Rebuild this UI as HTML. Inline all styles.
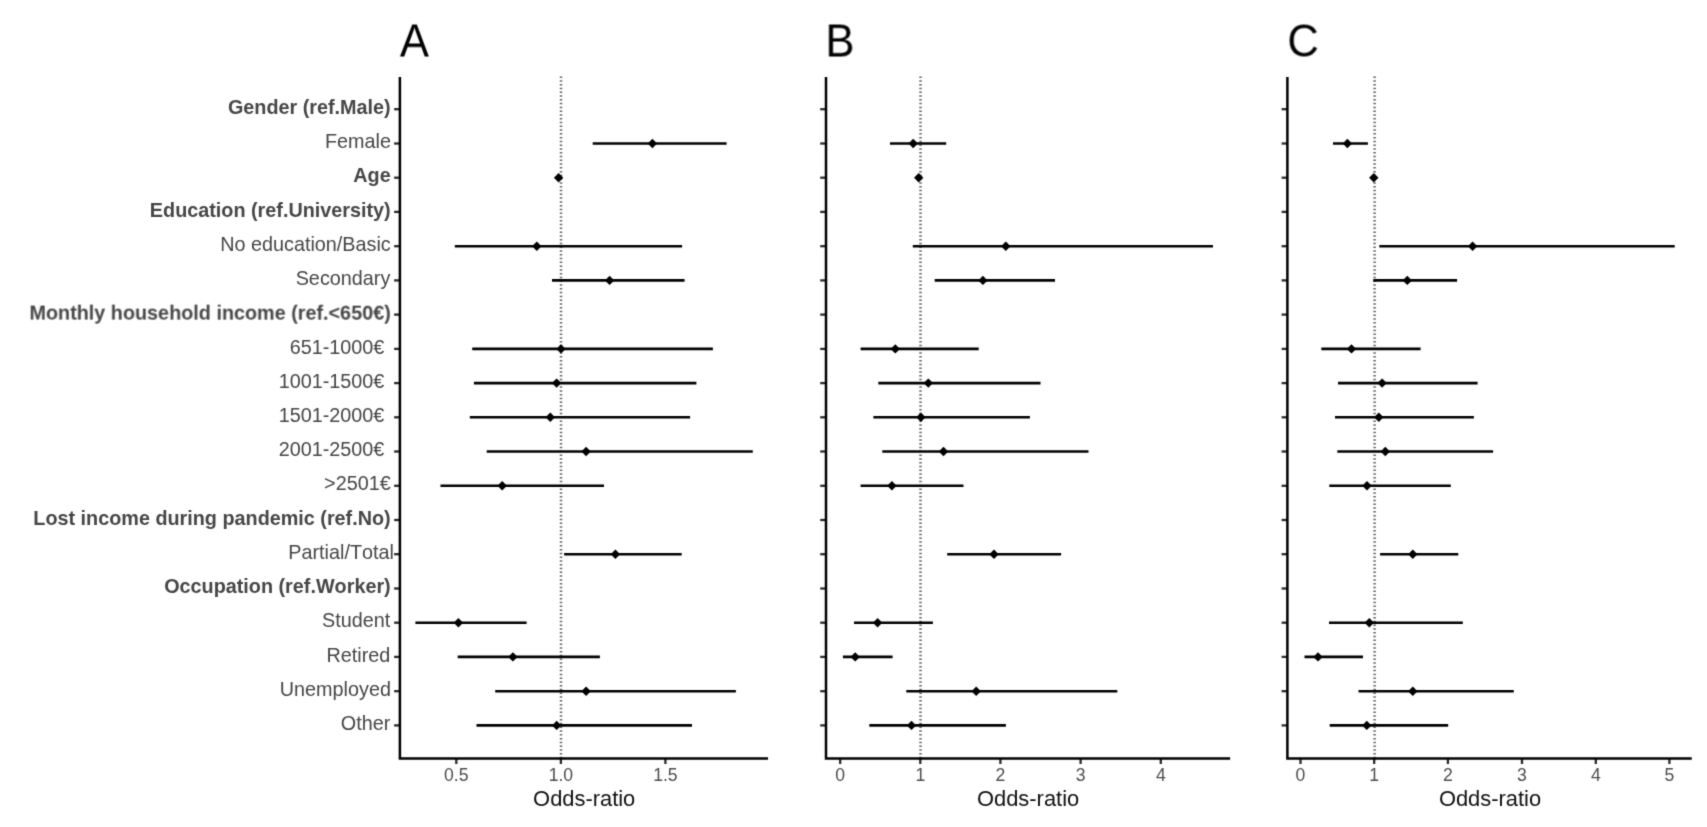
<!DOCTYPE html>
<html lang="en">
<head>
<meta charset="utf-8">
<title>Forest plots: odds-ratio</title>
<style>
html,body{margin:0;padding:0;background:#fff;}
body{width:1707px;height:827px;overflow:hidden;}
svg{display:block;}
text{font-family:"Liberation Sans",Arial,Helvetica,sans-serif;font-kerning:none;}
.yl{font-size:19.8px;fill:#464646;text-anchor:end;}
.b{font-weight:bold;}
.xt{font-size:17.6px;fill:#4d4d4d;text-anchor:middle;}
.ttl{font-size:21.9px;fill:#111;text-anchor:middle;}
.pl{font-size:43.6px;fill:#000;}
.ax{stroke:#000;stroke-width:2.5;fill:none;stroke-linecap:square;}
.tk{stroke:#2a2a2a;stroke-width:2.3;fill:none;}
.ci{stroke:#000;stroke-width:2.6;fill:none;}
.dt{stroke:#666666;stroke-width:2.5;stroke-dasharray:1.5 2.28;fill:none;}
.dm{fill:#000;}
</style>
</head>
<body>
<svg width="1707" height="827" viewBox="0 0 1707 827">
<defs><filter id="soft" x="0" y="0" width="1707" height="827" filterUnits="userSpaceOnUse" color-interpolation-filters="sRGB"><feConvolveMatrix order="3" kernelMatrix="0.0192 0.1001 0.0192 0.1001 0.5228 0.1001 0.0192 0.1001 0.0192" divisor="1" edgeMode="duplicate" preserveAlpha="false"/></filter></defs>
<rect x="0" y="0" width="1707" height="827" fill="#ffffff"/>
<g filter="url(#soft)">

<g>
<text class="yl b" transform="translate(390.7 113.95) rotate(0.02) scale(1 0.98)">Gender (ref.Male)</text>
<text class="yl" transform="translate(390.9 148.18) rotate(0.02) scale(1 0.98)">Female</text>
<text class="yl b" transform="translate(390.7 182.41) rotate(0.02) scale(1 0.98)">Age</text>
<text class="yl b" transform="translate(390.7 216.64) rotate(0.02) scale(1 0.98)">Education (ref.University)</text>
<text class="yl" transform="translate(390.7 250.87) rotate(0.02) scale(1 0.98)">No education/Basic</text>
<text class="yl" transform="translate(390.3 285.10) rotate(0.02) scale(1 0.98)">Secondary</text>
<text class="yl b" transform="translate(390.7 319.33) rotate(0.02) scale(1 0.98)">Monthly household income (ref.&lt;650€)</text>
<text class="yl" transform="translate(384.3 353.56) rotate(0.02) scale(1 0.98)">651-1000€</text>
<text class="yl" transform="translate(384.3 387.79) rotate(0.02) scale(1 0.98)">1001-1500€</text>
<text class="yl" transform="translate(384.3 422.02) rotate(0.02) scale(1 0.98)">1501-2000€</text>
<text class="yl" transform="translate(384.3 456.25) rotate(0.02) scale(1 0.98)">2001-2500€</text>
<text class="yl" transform="translate(390.7 490.48) rotate(0.02) scale(1 0.98)">&gt;2501€</text>
<text class="yl b" transform="translate(390.7 524.71) rotate(0.02) scale(1 0.98)">Lost income during pandemic (ref.No)</text>
<text class="yl" transform="translate(393.9 558.94) rotate(0.02) scale(1 0.98)">Partial/Total</text>
<text class="yl b" transform="translate(390.7 593.17) rotate(0.02) scale(1 0.98)">Occupation (ref.Worker)</text>
<text class="yl" transform="translate(390.3 627.40) rotate(0.02) scale(1 0.98)">Student</text>
<text class="yl" transform="translate(390.3 661.63) rotate(0.02) scale(1 0.98)">Retired</text>
<text class="yl" transform="translate(390.9 695.86) rotate(0.02) scale(1 0.98)">Unemployed</text>
<text class="yl" transform="translate(390.3 730.09) rotate(0.02) scale(1 0.98)">Other</text>
</g>
<g>
<text class="pl" transform="translate(399.9 56.4) rotate(0.02) scale(1 1.047)">A</text>
<line class="dt" x1="561.0" y1="76.4" x2="561.0" y2="758.4"/>
<line class="ci" x1="592.7" y1="143.5" x2="726.6" y2="143.5"/>
<path class="dm" d="M647.7 143.5L652.4 138.8L657.1 143.5L652.4 148.2Z"/>
<path class="dm" d="M553.9 177.7L558.6 173.0L563.3 177.7L558.6 182.4Z"/>
<line class="ci" x1="454.8" y1="246.2" x2="682.1" y2="246.2"/>
<path class="dm" d="M532.1 246.2L536.8 241.5L541.5 246.2L536.8 250.9Z"/>
<line class="ci" x1="552.0" y1="280.4" x2="684.6" y2="280.4"/>
<path class="dm" d="M604.9 280.4L609.6 275.7L614.3 280.4L609.6 285.1Z"/>
<line class="ci" x1="472.2" y1="348.9" x2="712.9" y2="348.9"/>
<path class="dm" d="M556.3 348.9L561.0 344.2L565.7 348.9L561.0 353.6Z"/>
<line class="ci" x1="473.9" y1="383.1" x2="696.4" y2="383.1"/>
<path class="dm" d="M551.9 383.1L556.6 378.4L561.3 383.1L556.6 387.8Z"/>
<line class="ci" x1="469.8" y1="417.3" x2="690.1" y2="417.3"/>
<path class="dm" d="M545.6 417.3L550.3 412.6L555.0 417.3L550.3 422.0Z"/>
<line class="ci" x1="486.7" y1="451.5" x2="752.8" y2="451.5"/>
<path class="dm" d="M581.4 451.5L586.1 446.8L590.8 451.5L586.1 456.2Z"/>
<line class="ci" x1="440.5" y1="485.8" x2="604.0" y2="485.8"/>
<path class="dm" d="M497.5 485.8L502.2 481.1L506.9 485.8L502.2 490.5Z"/>
<line class="ci" x1="564.1" y1="554.2" x2="681.7" y2="554.2"/>
<path class="dm" d="M610.7 554.2L615.4 549.5L620.1 554.2L615.4 558.9Z"/>
<line class="ci" x1="415.4" y1="622.7" x2="526.6" y2="622.7"/>
<path class="dm" d="M453.7 622.7L458.4 618.0L463.1 622.7L458.4 627.4Z"/>
<line class="ci" x1="457.7" y1="656.9" x2="599.9" y2="656.9"/>
<path class="dm" d="M508.2 656.9L512.9 652.2L517.6 656.9L512.9 661.6Z"/>
<line class="ci" x1="495.2" y1="691.2" x2="735.9" y2="691.2"/>
<path class="dm" d="M581.4 691.2L586.1 686.5L590.8 691.2L586.1 695.9Z"/>
<line class="ci" x1="476.5" y1="725.4" x2="692.0" y2="725.4"/>
<path class="dm" d="M552.0 725.4L556.7 720.7L561.4 725.4L556.7 730.1Z"/>
<line class="tk" x1="394.1" y1="109.2" x2="399.9" y2="109.2"/>
<line class="tk" x1="394.1" y1="143.5" x2="399.9" y2="143.5"/>
<line class="tk" x1="394.1" y1="177.7" x2="399.9" y2="177.7"/>
<line class="tk" x1="394.1" y1="211.9" x2="399.9" y2="211.9"/>
<line class="tk" x1="394.1" y1="246.2" x2="399.9" y2="246.2"/>
<line class="tk" x1="394.1" y1="280.4" x2="399.9" y2="280.4"/>
<line class="tk" x1="394.1" y1="314.6" x2="399.9" y2="314.6"/>
<line class="tk" x1="394.1" y1="348.9" x2="399.9" y2="348.9"/>
<line class="tk" x1="394.1" y1="383.1" x2="399.9" y2="383.1"/>
<line class="tk" x1="394.1" y1="417.3" x2="399.9" y2="417.3"/>
<line class="tk" x1="394.1" y1="451.5" x2="399.9" y2="451.5"/>
<line class="tk" x1="394.1" y1="485.8" x2="399.9" y2="485.8"/>
<line class="tk" x1="394.1" y1="520.0" x2="399.9" y2="520.0"/>
<line class="tk" x1="394.1" y1="554.2" x2="399.9" y2="554.2"/>
<line class="tk" x1="394.1" y1="588.5" x2="399.9" y2="588.5"/>
<line class="tk" x1="394.1" y1="622.7" x2="399.9" y2="622.7"/>
<line class="tk" x1="394.1" y1="656.9" x2="399.9" y2="656.9"/>
<line class="tk" x1="394.1" y1="691.2" x2="399.9" y2="691.2"/>
<line class="tk" x1="394.1" y1="725.4" x2="399.9" y2="725.4"/>
<line class="tk" x1="456.3" y1="758.4" x2="456.3" y2="764.0"/>
<text class="xt" transform="translate(456.3 780.8) rotate(0.02)">0.5</text>
<line class="tk" x1="560.9" y1="758.4" x2="560.9" y2="764.0"/>
<text class="xt" transform="translate(560.9 780.8) rotate(0.02)">1.0</text>
<line class="tk" x1="665.4" y1="758.4" x2="665.4" y2="764.0"/>
<text class="xt" transform="translate(665.4 780.8) rotate(0.02)">1.5</text>
<path class="ax" d="M399.9 78.2L399.9 758.4L766.8 758.4"/>
<text class="ttl" transform="translate(584.2 806.2) rotate(0.02) scale(1 1.04)">Odds-ratio</text>
</g>
<g>
<text class="pl" transform="translate(825.4 56.4) rotate(0.02) scale(1 1.047)">B</text>
<line class="dt" x1="920.5" y1="76.4" x2="920.5" y2="758.4"/>
<line class="ci" x1="890.0" y1="143.5" x2="946.2" y2="143.5"/>
<path class="dm" d="M908.5 143.5L913.2 138.8L917.9 143.5L913.2 148.2Z"/>
<path class="dm" d="M914.0 177.7L918.7 173.0L923.4 177.7L918.7 182.4Z"/>
<line class="ci" x1="912.8" y1="246.2" x2="1213.0" y2="246.2"/>
<path class="dm" d="M1001.1 246.2L1005.8 241.5L1010.5 246.2L1005.8 250.9Z"/>
<line class="ci" x1="934.7" y1="280.4" x2="1055.0" y2="280.4"/>
<path class="dm" d="M978.2 280.4L982.9 275.7L987.6 280.4L982.9 285.1Z"/>
<line class="ci" x1="860.6" y1="348.9" x2="978.7" y2="348.9"/>
<path class="dm" d="M890.6 348.9L895.3 344.2L900.0 348.9L895.3 353.6Z"/>
<line class="ci" x1="878.3" y1="383.1" x2="1040.5" y2="383.1"/>
<path class="dm" d="M923.6 383.1L928.3 378.4L933.0 383.1L928.3 387.8Z"/>
<line class="ci" x1="873.4" y1="417.3" x2="1029.9" y2="417.3"/>
<path class="dm" d="M916.2 417.3L920.9 412.6L925.6 417.3L920.9 422.0Z"/>
<line class="ci" x1="882.3" y1="451.5" x2="1088.5" y2="451.5"/>
<path class="dm" d="M938.8 451.5L943.5 446.8L948.2 451.5L943.5 456.2Z"/>
<line class="ci" x1="860.6" y1="485.8" x2="963.5" y2="485.8"/>
<path class="dm" d="M887.2 485.8L891.9 481.1L896.6 485.8L891.9 490.5Z"/>
<line class="ci" x1="947.2" y1="554.2" x2="1061.1" y2="554.2"/>
<path class="dm" d="M989.3 554.2L994.0 549.5L998.7 554.2L994.0 558.9Z"/>
<line class="ci" x1="854.0" y1="622.7" x2="932.9" y2="622.7"/>
<path class="dm" d="M872.9 622.7L877.6 618.0L882.3 622.7L877.6 627.4Z"/>
<line class="ci" x1="842.9" y1="656.9" x2="892.6" y2="656.9"/>
<path class="dm" d="M850.5 656.9L855.2 652.2L859.9 656.9L855.2 661.6Z"/>
<line class="ci" x1="906.3" y1="691.2" x2="1117.3" y2="691.2"/>
<path class="dm" d="M971.5 691.2L976.2 686.5L980.9 691.2L976.2 695.9Z"/>
<line class="ci" x1="869.3" y1="725.4" x2="1005.9" y2="725.4"/>
<path class="dm" d="M906.8 725.4L911.5 720.7L916.2 725.4L911.5 730.1Z"/>
<line class="tk" x1="820.2" y1="109.2" x2="826.0" y2="109.2"/>
<line class="tk" x1="820.2" y1="143.5" x2="826.0" y2="143.5"/>
<line class="tk" x1="820.2" y1="177.7" x2="826.0" y2="177.7"/>
<line class="tk" x1="820.2" y1="211.9" x2="826.0" y2="211.9"/>
<line class="tk" x1="820.2" y1="246.2" x2="826.0" y2="246.2"/>
<line class="tk" x1="820.2" y1="280.4" x2="826.0" y2="280.4"/>
<line class="tk" x1="820.2" y1="314.6" x2="826.0" y2="314.6"/>
<line class="tk" x1="820.2" y1="348.9" x2="826.0" y2="348.9"/>
<line class="tk" x1="820.2" y1="383.1" x2="826.0" y2="383.1"/>
<line class="tk" x1="820.2" y1="417.3" x2="826.0" y2="417.3"/>
<line class="tk" x1="820.2" y1="451.5" x2="826.0" y2="451.5"/>
<line class="tk" x1="820.2" y1="485.8" x2="826.0" y2="485.8"/>
<line class="tk" x1="820.2" y1="520.0" x2="826.0" y2="520.0"/>
<line class="tk" x1="820.2" y1="554.2" x2="826.0" y2="554.2"/>
<line class="tk" x1="820.2" y1="588.5" x2="826.0" y2="588.5"/>
<line class="tk" x1="820.2" y1="622.7" x2="826.0" y2="622.7"/>
<line class="tk" x1="820.2" y1="656.9" x2="826.0" y2="656.9"/>
<line class="tk" x1="820.2" y1="691.2" x2="826.0" y2="691.2"/>
<line class="tk" x1="820.2" y1="725.4" x2="826.0" y2="725.4"/>
<line class="tk" x1="840.2" y1="758.4" x2="840.2" y2="764.0"/>
<text class="xt" transform="translate(840.2 780.8) rotate(0.02)">0</text>
<line class="tk" x1="920.3" y1="758.4" x2="920.3" y2="764.0"/>
<text class="xt" transform="translate(920.3 780.8) rotate(0.02)">1</text>
<line class="tk" x1="1000.4" y1="758.4" x2="1000.4" y2="764.0"/>
<text class="xt" transform="translate(1000.4 780.8) rotate(0.02)">2</text>
<line class="tk" x1="1080.6" y1="758.4" x2="1080.6" y2="764.0"/>
<text class="xt" transform="translate(1080.6 780.8) rotate(0.02)">3</text>
<line class="tk" x1="1160.8" y1="758.4" x2="1160.8" y2="764.0"/>
<text class="xt" transform="translate(1160.8 780.8) rotate(0.02)">4</text>
<path class="ax" d="M826.0 78.2L826.0 758.4L1228.8999999999999 758.4"/>
<text class="ttl" transform="translate(1028.1 806.2) rotate(0.02) scale(1 1.04)">Odds-ratio</text>
</g>
<g>
<text class="pl" transform="translate(1287.4 56.4) rotate(0.02) scale(1 1.047)">C</text>
<line class="dt" x1="1374.6" y1="76.4" x2="1374.6" y2="758.4"/>
<line class="ci" x1="1333.0" y1="143.5" x2="1367.9" y2="143.5"/>
<path class="dm" d="M1342.7 143.5L1347.4 138.8L1352.1 143.5L1347.4 148.2Z"/>
<path class="dm" d="M1369.1 177.7L1373.8 173.0L1378.5 177.7L1373.8 182.4Z"/>
<line class="ci" x1="1379.3" y1="246.2" x2="1674.7" y2="246.2"/>
<path class="dm" d="M1467.9 246.2L1472.6 241.5L1477.3 246.2L1472.6 250.9Z"/>
<line class="ci" x1="1373.3" y1="280.4" x2="1457.1" y2="280.4"/>
<path class="dm" d="M1402.6 280.4L1407.3 275.7L1412.0 280.4L1407.3 285.1Z"/>
<line class="ci" x1="1321.3" y1="348.9" x2="1420.6" y2="348.9"/>
<path class="dm" d="M1346.8 348.9L1351.5 344.2L1356.2 348.9L1351.5 353.6Z"/>
<line class="ci" x1="1338.0" y1="383.1" x2="1477.6" y2="383.1"/>
<path class="dm" d="M1377.4 383.1L1382.1 378.4L1386.8 383.1L1382.1 387.8Z"/>
<line class="ci" x1="1335.0" y1="417.3" x2="1473.9" y2="417.3"/>
<path class="dm" d="M1374.1 417.3L1378.8 412.6L1383.5 417.3L1378.8 422.0Z"/>
<line class="ci" x1="1337.3" y1="451.5" x2="1493.1" y2="451.5"/>
<path class="dm" d="M1380.6 451.5L1385.3 446.8L1390.0 451.5L1385.3 456.2Z"/>
<line class="ci" x1="1329.3" y1="485.8" x2="1450.8" y2="485.8"/>
<path class="dm" d="M1362.3 485.8L1367.0 481.1L1371.7 485.8L1367.0 490.5Z"/>
<line class="ci" x1="1380.1" y1="554.2" x2="1458.3" y2="554.2"/>
<path class="dm" d="M1408.1 554.2L1412.8 549.5L1417.5 554.2L1412.8 558.9Z"/>
<line class="ci" x1="1329.0" y1="622.7" x2="1462.8" y2="622.7"/>
<path class="dm" d="M1364.6 622.7L1369.3 618.0L1374.0 622.7L1369.3 627.4Z"/>
<line class="ci" x1="1304.5" y1="656.9" x2="1363.0" y2="656.9"/>
<path class="dm" d="M1313.3 656.9L1318.0 652.2L1322.7 656.9L1318.0 661.6Z"/>
<line class="ci" x1="1358.5" y1="691.2" x2="1513.8" y2="691.2"/>
<path class="dm" d="M1408.1 691.2L1412.8 686.5L1417.5 691.2L1412.8 695.9Z"/>
<line class="ci" x1="1329.7" y1="725.4" x2="1448.2" y2="725.4"/>
<path class="dm" d="M1362.1 725.4L1366.8 720.7L1371.5 725.4L1366.8 730.1Z"/>
<line class="tk" x1="1281.6" y1="109.2" x2="1287.4" y2="109.2"/>
<line class="tk" x1="1281.6" y1="143.5" x2="1287.4" y2="143.5"/>
<line class="tk" x1="1281.6" y1="177.7" x2="1287.4" y2="177.7"/>
<line class="tk" x1="1281.6" y1="211.9" x2="1287.4" y2="211.9"/>
<line class="tk" x1="1281.6" y1="246.2" x2="1287.4" y2="246.2"/>
<line class="tk" x1="1281.6" y1="280.4" x2="1287.4" y2="280.4"/>
<line class="tk" x1="1281.6" y1="314.6" x2="1287.4" y2="314.6"/>
<line class="tk" x1="1281.6" y1="348.9" x2="1287.4" y2="348.9"/>
<line class="tk" x1="1281.6" y1="383.1" x2="1287.4" y2="383.1"/>
<line class="tk" x1="1281.6" y1="417.3" x2="1287.4" y2="417.3"/>
<line class="tk" x1="1281.6" y1="451.5" x2="1287.4" y2="451.5"/>
<line class="tk" x1="1281.6" y1="485.8" x2="1287.4" y2="485.8"/>
<line class="tk" x1="1281.6" y1="520.0" x2="1287.4" y2="520.0"/>
<line class="tk" x1="1281.6" y1="554.2" x2="1287.4" y2="554.2"/>
<line class="tk" x1="1281.6" y1="588.5" x2="1287.4" y2="588.5"/>
<line class="tk" x1="1281.6" y1="622.7" x2="1287.4" y2="622.7"/>
<line class="tk" x1="1281.6" y1="656.9" x2="1287.4" y2="656.9"/>
<line class="tk" x1="1281.6" y1="691.2" x2="1287.4" y2="691.2"/>
<line class="tk" x1="1281.6" y1="725.4" x2="1287.4" y2="725.4"/>
<line class="tk" x1="1300.5" y1="758.4" x2="1300.5" y2="764.0"/>
<text class="xt" transform="translate(1300.5 780.8) rotate(0.02)">0</text>
<line class="tk" x1="1374.2" y1="758.4" x2="1374.2" y2="764.0"/>
<text class="xt" transform="translate(1374.2 780.8) rotate(0.02)">1</text>
<line class="tk" x1="1447.9" y1="758.4" x2="1447.9" y2="764.0"/>
<text class="xt" transform="translate(1447.9 780.8) rotate(0.02)">2</text>
<line class="tk" x1="1522.0" y1="758.4" x2="1522.0" y2="764.0"/>
<text class="xt" transform="translate(1522.0 780.8) rotate(0.02)">3</text>
<line class="tk" x1="1595.8" y1="758.4" x2="1595.8" y2="764.0"/>
<text class="xt" transform="translate(1595.8 780.8) rotate(0.02)">4</text>
<line class="tk" x1="1669.4" y1="758.4" x2="1669.4" y2="764.0"/>
<text class="xt" transform="translate(1669.4 780.8) rotate(0.02)">5</text>
<path class="ax" d="M1287.4 78.2L1287.4 758.4L1690.5 758.4"/>
<text class="ttl" transform="translate(1490.0 806.2) rotate(0.02) scale(1 1.04)">Odds-ratio</text>
</g>
</g>
</svg>
</body>
</html>
